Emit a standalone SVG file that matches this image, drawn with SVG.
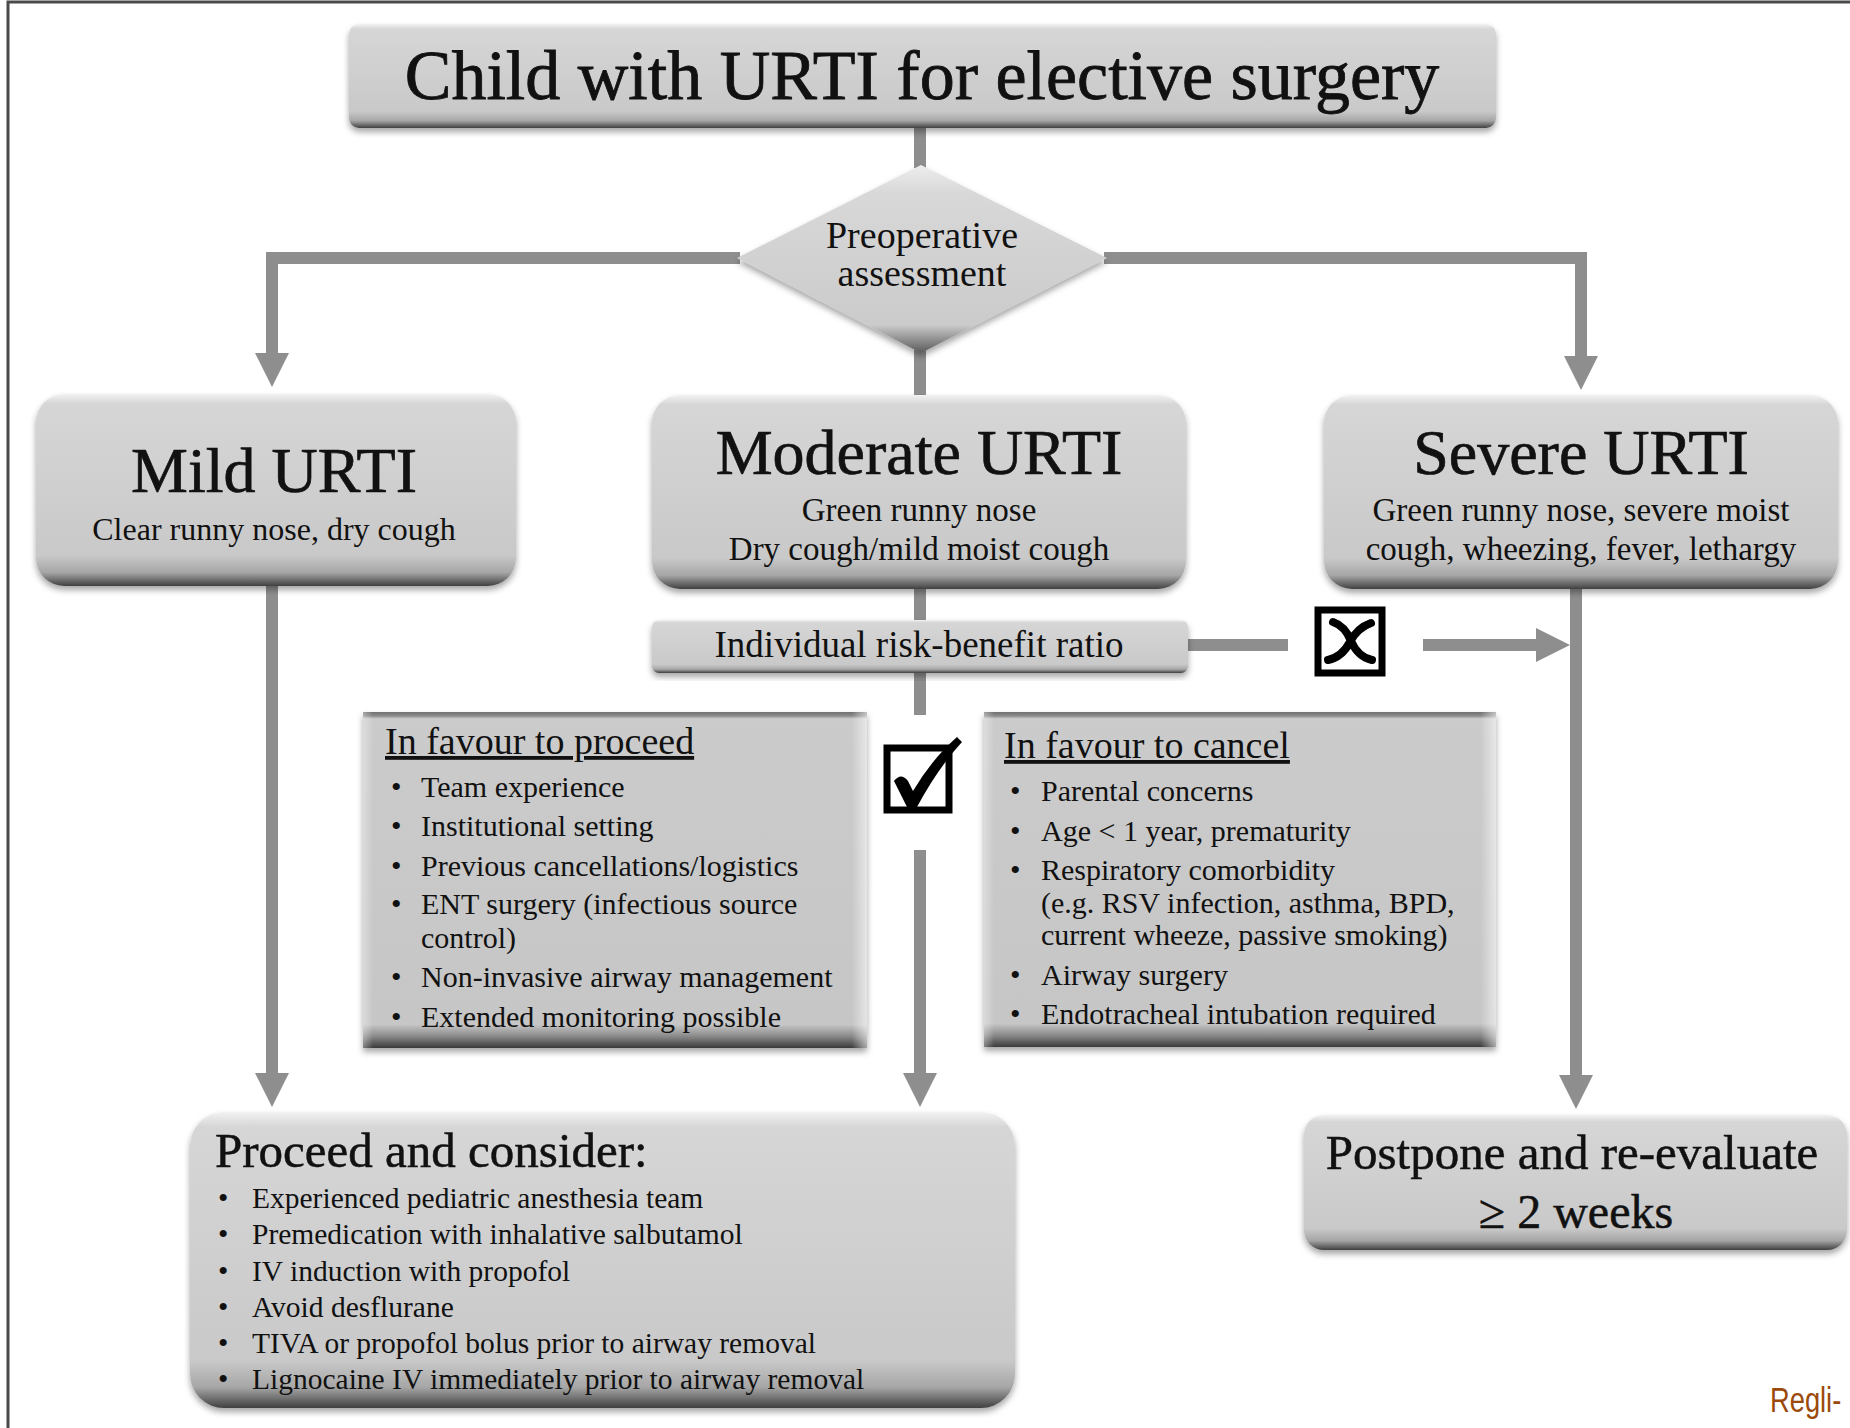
<svg xmlns="http://www.w3.org/2000/svg" width="1850" height="1428" viewBox="0 0 1850 1428">
<style>
text{font-family:"Liberation Serif","Times New Roman",serif;fill:#111}
.h1{font-size:70px;text-anchor:middle;stroke:#111;stroke-width:0.8}
.h2{font-size:64px;text-anchor:middle;stroke:#111;stroke-width:0.7}
.sub{font-size:33px;text-anchor:middle}
.dia{font-size:38px;text-anchor:middle}
.risk{font-size:37px;text-anchor:middle}
.lt{font-size:38px;text-decoration:underline}
.li{font-size:30px}
.ch{font-size:49px;stroke:#111;stroke-width:0.5}
.ci{font-size:29.5px}
.pp{font-size:49px;text-anchor:middle;stroke:#111;stroke-width:0.5}
.conn{fill:none;stroke:#8e8e8e;stroke-width:12;stroke-linejoin:miter}
.box{fill:url(#gBox);filter:url(#sh)}
.flat{fill:url(#gFlat);filter:url(#sh)}
.mark{fill:#fff;stroke:#000;stroke-width:7}
</style>
<defs>
<linearGradient id="gBox" x1="0" y1="0" x2="0" y2="1">
<stop offset="0" stop-color="#f2f2f2"/>
<stop offset="0.05" stop-color="#d6d6d6"/>
<stop offset="0.84" stop-color="#c9c9c9"/>
<stop offset="0.93" stop-color="#a6a6a6"/>
<stop offset="1" stop-color="#404040"/>
</linearGradient>
<linearGradient id="gFlat" x1="0" y1="0" x2="0" y2="1">
<stop offset="0" stop-color="#707070"/>
<stop offset="0.012" stop-color="#8c8c8c"/>
<stop offset="0.02" stop-color="#cbcbcb"/>
<stop offset="0.93" stop-color="#c6c6c6"/>
<stop offset="0.965" stop-color="#8a8a8a"/>
<stop offset="1" stop-color="#3a3a3a"/>
</linearGradient>
<linearGradient id="gEdge" x1="0" y1="0" x2="1" y2="0">
<stop offset="0" stop-color="#fff" stop-opacity="0.35"/>
<stop offset="0.02" stop-color="#fff" stop-opacity="0"/>
<stop offset="0.97" stop-color="#fff" stop-opacity="0"/>
<stop offset="1" stop-color="#fff" stop-opacity="0.55"/>
</linearGradient>
<linearGradient id="gDia" x1="0" y1="0" x2="0" y2="1">
<stop offset="0" stop-color="#ededed"/>
<stop offset="0.15" stop-color="#d8d8d8"/>
<stop offset="0.85" stop-color="#cbcbcb"/>
<stop offset="1" stop-color="#5a5a5a"/>
</linearGradient>
<filter id="sh" x="-5%" y="-5%" width="110%" height="120%">
<feDropShadow dx="0" dy="4" stdDeviation="3" flood-color="#000" flood-opacity="0.35"/>
</filter>
<marker id="ah" markerUnits="userSpaceOnUse" markerWidth="36" markerHeight="36" refX="14" refY="17" orient="auto">
<path d="M0,0 L34,17 L0,34 Z" fill="#8e8e8e"/>
</marker>
</defs>
<rect width="1850" height="1428" fill="#fff"/>
<path d="M8,1428 V2 H1850" fill="none" stroke="#4a4a4a" stroke-width="3"/>

<g id="connectors">
<path class="conn" d="M920,126 V168"/>
<path class="conn" d="M740,258 H272 V367" marker-end="url(#ah)"/>
<path class="conn" d="M1104,258 H1581 V370" marker-end="url(#ah)"/>
<path class="conn" d="M920,350 V397"/>
<path class="conn" d="M920,588 V622"/>
<path class="conn" d="M1188,645 H1288"/>
<path class="conn" d="M1423,645 H1550" marker-end="url(#ah)"/>
<path class="conn" d="M920,671 V715"/>
<path class="conn" d="M920,850 V1087" marker-end="url(#ah)"/>
<path class="conn" d="M272,586 V1087" marker-end="url(#ah)"/>
<path class="conn" d="M1576,588 V1089" marker-end="url(#ah)"/>
</g>

<g id="title">
<rect class="box" x="349" y="24" width="1147" height="104" rx="10"/>
<text class="h1" x="922" y="99">Child with URTI for elective surgery</text>
</g>

<g id="preop">
<path d="M921,165 L1107,258 L921,353 L737,258 Z" fill="url(#gDia)" filter="url(#sh)"/>
<text class="dia" x="922" y="248">Preoperative</text>
<text class="dia" x="922" y="286">assessment</text>
</g>

<g id="mild">
<rect class="box" x="36" y="394" width="480" height="192" rx="28"/>
<text class="h2" x="274" y="492">Mild URTI</text>
<text class="sub" x="274" y="540" style="font-size:32px">Clear runny nose, dry cough</text>
</g>

<g id="moderate">
<rect class="box" x="652" y="395" width="534" height="194" rx="28"/>
<text class="h2" x="919" y="474">Moderate URTI</text>
<text class="sub" x="919" y="521">Green runny nose</text>
<text class="sub" x="919" y="560">Dry cough/mild moist cough</text>
</g>

<g id="severe">
<rect class="box" x="1324" y="395" width="514" height="194" rx="28"/>
<text class="h2" x="1581" y="474">Severe URTI</text>
<text class="sub" x="1581" y="521">Green runny nose, severe moist</text>
<text class="sub" x="1581" y="560">cough, wheezing, fever, lethargy</text>
</g>

<g id="risk">
<rect class="box" x="652" y="620" width="536" height="53" rx="7"/>
<text class="risk" x="919" y="657">Individual risk-benefit ratio</text>
</g>

<g id="cancel-mark">
<rect class="mark" x="1318" y="610" width="64" height="63"/>
<path d="M1333,622 Q1345,626 1351,641 Q1358,657 1372,660 M1371,623 Q1357,628 1350,642 Q1342,657 1328,660" fill="none" stroke="#000" stroke-width="8" stroke-linecap="round"/>
</g>

<g id="proceed-mark">
<rect class="mark" x="887" y="748" width="62" height="62"/>
<path d="M894,781 Q901,772 908,781 L913,791 Q932,759 957,737 L962,742 Q938,768 917,807 L907,807 Z" fill="#000"/>
</g>

<g id="favour-proceed">
<rect class="flat" x="363" y="712" width="504" height="336"/>
<rect x="363" y="712" width="504" height="336" fill="url(#gEdge)"/>
<text class="lt" x="385" y="754">In favour to proceed</text>
<text class="li" x="391" y="797">•</text><text class="li" x="421" y="797">Team experience</text>
<text class="li" x="391" y="836">•</text><text class="li" x="421" y="836">Institutional setting</text>
<text class="li" x="391" y="876">•</text><text class="li" x="421" y="876">Previous cancellations/logistics</text>
<text class="li" x="391" y="914">•</text><text class="li" x="421" y="914">ENT surgery (infectious source</text>
<text class="li" x="421" y="948">control)</text>
<text class="li" x="391" y="987">•</text><text class="li" x="421" y="987">Non-invasive airway management</text>
<text class="li" x="391" y="1027">•</text><text class="li" x="421" y="1027">Extended monitoring possible</text>
</g>

<g id="favour-cancel">
<rect class="flat" x="984" y="712" width="512" height="335"/>
<rect x="984" y="712" width="512" height="335" fill="url(#gEdge)"/>
<text class="lt" x="1004" y="758">In favour to cancel</text>
<text class="li" x="1010" y="801">•</text><text class="li" x="1041" y="801">Parental concerns</text>
<text class="li" x="1010" y="841">•</text><text class="li" x="1041" y="841">Age &lt; 1 year, prematurity</text>
<text class="li" x="1010" y="880">•</text><text class="li" x="1041" y="880">Respiratory comorbidity</text>
<text class="li" x="1041" y="913">(e.g. RSV infection, asthma, BPD,</text>
<text class="li" x="1041" y="945">current wheeze, passive smoking)</text>
<text class="li" x="1010" y="985">•</text><text class="li" x="1041" y="985">Airway surgery</text>
<text class="li" x="1010" y="1024">•</text><text class="li" x="1041" y="1024">Endotracheal intubation required</text>
</g>

<g id="proceed-consider">
<rect class="box" x="190" y="1112" width="825" height="296" rx="34"/>
<text class="ch" x="215" y="1167">Proceed and consider:</text>
<text class="ci" x="218" y="1208">•</text><text class="ci" x="252" y="1208">Experienced pediatric anesthesia team</text>
<text class="ci" x="218" y="1244">•</text><text class="ci" x="252" y="1244">Premedication with inhalative salbutamol</text>
<text class="ci" x="218" y="1281">•</text><text class="ci" x="252" y="1281">IV induction with propofol</text>
<text class="ci" x="218" y="1317">•</text><text class="ci" x="252" y="1317">Avoid desflurane</text>
<text class="ci" x="218" y="1353">•</text><text class="ci" x="252" y="1353">TIVA or propofol bolus prior to airway removal</text>
<text class="ci" x="218" y="1389">•</text><text class="ci" x="252" y="1389">Lignocaine IV immediately prior to airway removal</text>
</g>

<g id="postpone">
<rect class="box" x="1304" y="1115" width="543" height="135" rx="20"/>
<text class="pp" x="1572" y="1169">Postpone and re-evaluate</text>
<text class="pp" x="1576" y="1228" style="font-size:48px">≥ 2 weeks</text>
</g>

<text transform="translate(1770,1412) scale(0.78,1)" style="font-family:'Liberation Sans',Arial,sans-serif;font-size:35px;fill:#9b4a0b">Regli-</text>
</svg>
